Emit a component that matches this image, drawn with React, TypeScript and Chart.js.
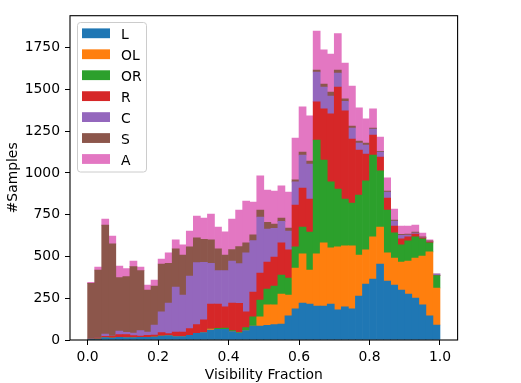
import React, { useEffect, useRef } from "react";
import { Chart, registerables } from "chart.js";
Chart.register(...registerables);

// Bin centres of the 50 histogram bins (width 0.02) from 0 to 1
const binCenters = [
  0.01, 0.03, 0.05, 0.07, 0.09, 0.11, 0.13, 0.15, 0.17, 0.19,
  0.21, 0.23, 0.25, 0.27, 0.29, 0.31, 0.33, 0.35, 0.37, 0.39,
  0.41, 0.43, 0.45, 0.47, 0.49, 0.51, 0.53, 0.55, 0.57, 0.59,
  0.61, 0.63, 0.65, 0.67, 0.69, 0.71, 0.73, 0.75, 0.77, 0.79,
  0.81, 0.83, 0.85, 0.87, 0.89, 0.91, 0.93, 0.95, 0.97, 0.99,
];

const seriesNames = ["L", "OL", "OR", "R", "C", "S", "A"];
const seriesColors = ["#1f77b4", "#ff7f0e", "#2ca02c", "#d62728", "#9467bd", "#8c564b", "#e377c2"];

const valuesL = [
  2, 6, 14, 12, 16, 14, 14, 16, 16, 18,
  24, 26, 20, 20, 28, 40, 44, 60, 64, 64,
  50, 42, 56, 84, 84, 88, 92, 96, 144, 186,
  221, 215, 203, 203, 215, 180, 198, 186, 263, 335,
  365, 455, 353, 329, 299, 275, 251, 210, 144, 90,
];
const valuesOL = [
  0, 0, 0, 0, 0, 0, 0, 0, 0, 0,
  0, 0, 0, 0, 0, 0, 0, 6, 0, 0,
  0, 0, 0, 0, 54, 122, 118, 179, 125, 245,
  294, 204, 312, 378, 336, 377, 365, 377, 246, 204,
  252, 221, 168, 162, 168, 198, 240, 293, 383, 221,
];
const valuesOR = [
  0, 0, 0, 0, 0, 0, 0, 0, 0, 0,
  0, 0, 0, 0, 0, 0, 0, 0, 6, 8,
  6, 4, 18, 54, 101, 95, 113, 114, 102, 126,
  161, 227, 682, 496, 395, 347, 281, 257, 359, 413,
  490, 336, 257, 150, 102, 120, 126, 102, 54, 74,
];
const valuesR = [
  2, 6, 8, 10, 16, 18, 12, 8, 12, 12,
  20, 12, 28, 28, 40, 52, 76, 149, 145, 126,
  165, 173, 94, 149, 162, 162, 174, 192, 168, 251,
  234, 198, 228, 306, 407, 610, 527, 383, 269, 161,
  120, 83, 72, 41, 36, 24, 17, 6, 6, 0,
];
const valuesC = [
  1, 0, 14, 2, 22, 14, 16, 32, 20, 60,
  124, 183, 269, 221, 315, 371, 345, 244, 200, 217,
  252, 238, 353, 308, 335, 197, 171, 129, 113, 138,
  197, 209, 179, 131, 107, 84, 58, 66, 42, 54,
  36, 30, 36, 30, 22, 11, 6, 3, 3, 10,
];
const valuesS = [
  334, 407, 652, 551, 319, 333, 397, 359, 251, 233,
  287, 238, 228, 240, 174, 148, 138, 140, 130, 94,
  68, 102, 60, 34, 42, 40, 26, 20, 18, 12,
  18, 18, 12, 18, 24, 18, 14, 12, 12, 12,
  6, 4, 6, 6, 6, 6, 6, 3, 3, 0,
];
const valuesA = [
  6, 18, 36, 47, 70, 48, 34, 22, 30, 36,
  30, 62, 54, 60, 95, 131, 127, 155, 131, 138,
  183, 219, 251, 197, 204, 194, 198, 192, 216, 251,
  270, 270, 233, 204, 228, 218, 215, 239, 198, 144,
  114, 86, 78, 66, 49, 48, 42, 23, 6, 0,
];

const allValues = [valuesL, valuesOL, valuesOR, valuesR, valuesC, valuesS, valuesA];

const xTickValues = [0, 0.2, 0.4, 0.6, 0.8, 1.0];
const yTickValues = [0, 250, 500, 750, 1000, 1250, 1500, 1750];

const xTitle = "Visibility Fraction";
const yTitle = "#Samples";

const FONT = "DejaVu Sans";
const FS = 13.9;

const decorPlugin = {
  id: "decor",
  afterDraw(chart: any) {
    const ctx = chart.ctx;
    const a = chart.chartArea;
    ctx.save();
    // frame
    ctx.strokeStyle = "#000";
    ctx.lineWidth = 1.1;
    ctx.strokeRect(a.left, a.top, a.right - a.left, a.bottom - a.top);

    // axis titles
    ctx.fillStyle = "#000";
    ctx.font = `${FS}px "${FONT}"`;
    ctx.textAlign = "center";
    ctx.textBaseline = "alphabetic";
    ctx.fillText(xTitle, (a.left + a.right) / 2, 379);
    ctx.save();
    ctx.translate(17, (a.top + a.bottom) / 2);
    ctx.rotate(-Math.PI / 2);
    ctx.fillText(yTitle, 0, 0);
    ctx.restore();

    // legend
    const lx = 77.5, ly = 22.5, lw = 69, lh = 149.5, r = 3;
    ctx.beginPath();
    ctx.moveTo(lx + r, ly);
    ctx.lineTo(lx + lw - r, ly);
    ctx.quadraticCurveTo(lx + lw, ly, lx + lw, ly + r);
    ctx.lineTo(lx + lw, ly + lh - r);
    ctx.quadraticCurveTo(lx + lw, ly + lh, lx + lw - r, ly + lh);
    ctx.lineTo(lx + r, ly + lh);
    ctx.quadraticCurveTo(lx, ly + lh, lx, ly + lh - r);
    ctx.lineTo(lx, ly + r);
    ctx.quadraticCurveTo(lx, ly, lx + r, ly);
    ctx.closePath();
    ctx.fillStyle = "rgba(255,255,255,0.8)";
    ctx.fill();
    ctx.strokeStyle = "#cccccc";
    ctx.lineWidth = 1;
    ctx.stroke();

    ctx.textAlign = "left";
    ctx.textBaseline = "alphabetic";
    seriesNames.forEach((name, i) => {
      const step = 20.95;
      ctx.fillStyle = seriesColors[i];
      ctx.fillRect(82, 28.4 + i * step, 28, 9.8);
      ctx.fillStyle = "#000";
      ctx.fillText(name, 121, 38.9 + i * step);
    });
    ctx.restore();
  },
};

export default function App() {
  const ref = useRef<HTMLCanvasElement | null>(null);
  useEffect(() => {
    if (!ref.current) return;
    const datasets = seriesNames.map((name, si) => ({
      label: name,
      data: allValues[si].map((v, i) => ({ x: binCenters[i], y: v })),
      backgroundColor: seriesColors[si],
      borderWidth: 0,
      barPercentage: 1,
      categoryPercentage: 1,
    }));
    const chart = new Chart(ref.current, {
      type: "bar",
      data: { datasets } as any,
      options: {
        responsive: false,
        animation: false,
        layout: { padding: { top: 15.7, right: 63.4, left: 0, bottom: 0 } },
        plugins: { legend: { display: false }, tooltip: { enabled: false } },
        scales: {
          x: {
            type: "linear",
            stacked: true,
            offset: false,
            min: -0.05,
            max: 1.05,
            afterBuildTicks: (s: any) => {
              s.ticks = xTickValues.map((v) => ({ value: v }));
            },
            afterFit: (s: any) => {
              s.height = 43;
            },
            ticks: {
              callback: (v: any) => Number(v).toFixed(1),
              font: { family: FONT, size: FS },
              color: "#000",
              padding: 4,
              maxRotation: 0,
              autoSkip: false,
            },
            grid: { offset: false, drawOnChartArea: false, drawTicks: true, tickLength: 5, color: "#000" },
            border: { display: false },
          },
          y: {
            type: "linear",
            stacked: true,
            min: 0,
            max: 1941,
            afterBuildTicks: (s: any) => {
              s.ticks = yTickValues.map((v) => ({ value: v }));
            },
            afterFit: (s: any) => {
              s.width = 70;
            },
            ticks: {
              callback: (v: any) => String(v),
              font: { family: FONT, size: FS },
              color: "#000",
              padding: 5,
              autoSkip: false,
            },
            grid: { drawOnChartArea: false, drawTicks: true, tickLength: 5, color: "#000" },
            border: { display: false },
          },
        },
      } as any,
      plugins: [decorPlugin],
    });
    return () => chart.destroy();
  }, []);
  return (
    <div style={{ position: "absolute", left: 0, top: 0, width: 521, height: 383, background: "#fff" }}>
      <canvas ref={ref} width={521} height={383} style={{ display: "block" }} />
    </div>
  );
}
